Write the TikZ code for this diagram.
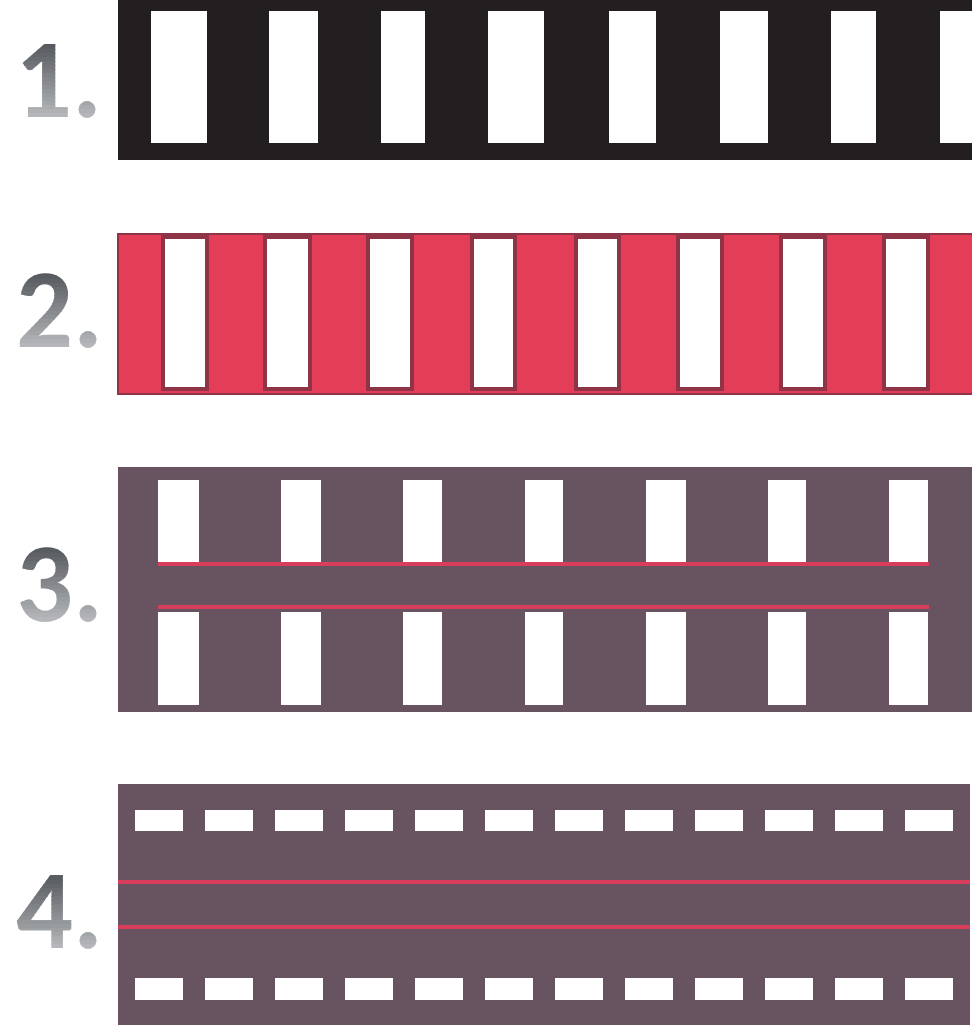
\documentclass[tikz,border=0pt]{standalone}
\usepackage{fontspec}
\newfontfamily\numfam{Carlito}
\definecolor{tapeblack}{HTML}{231F20}
\definecolor{tapered}{HTML}{E33D57}
\definecolor{tapeedge}{HTML}{8E3446}
\definecolor{tapemauve}{HTML}{685360}
\definecolor{stripered}{HTML}{D93D5C}
\definecolor{numtop}{HTML}{54575C}
\definecolor{numbot}{HTML}{BABCBF}
\usepackage{tikz}
\usetikzlibrary{calc}
\newcommand\numfont{\numfam\bfseries\fontsize{64}{64}\selectfont}
\tikzset{
  band1/.style={fill=tapeblack},
  band2/.style={fill=tapered,draw=tapeedge,line width=1.6pt},
  band3/.style={fill=tapemauve},
  whitebar/.style={fill=white},
  whitebarR/.style={fill=white,draw=tapeedge,line width=1.8pt},
  redline/.style={stripered,line width=2.6pt},
  numlab/.style={font=\numfont,inner sep=0pt},
}

\begin{document}
\begin{tikzpicture}[x=0.02cm,y=-0.02cm]
  \useasboundingbox (0,0) rectangle (972,1025);
  % grey numbers, shaded top to bottom in thin strips
  \foreach \n/\t/\xx/\yy in {one/1./59/81, two/2./60/311, three/3./60/585, four/4./60/912}{
    \coordinate (lab\n) at (\xx,\yy);
    \foreach \i in {0,...,19}{
      \pgfmathtruncatemacro\p{100*\i/19}
      \begin{scope}
        \clip ($(lab\n)+(-60,-40+4*\i)$) rectangle ($(lab\n)+(60,-36+4*\i)$);
        \node[numlab,text=numbot!\p!numtop] (lab\n\i) at (lab\n) {\t};
      \end{scope}
    }
  }
  % 1: black tape
  \fill[band1] (118,0) rectangle (972,160);
  \foreach \a/\b in {151/207,269/318,381/425,488/544,609/656,720/768,831/876,940/972}
    \fill[whitebar] (\a,11) rectangle (\b,143);
  % 2: red and white
  \draw[band2] (118,234) rectangle (973,394);
  \foreach \a/\b in {163/207,265/310,368/412,472/515,576/619,678/722,781/825,884/928}
    \draw[whitebarR] (\a,237) rectangle (\b,389);
  % 3: bars with red centre lines
  \fill[band3] (118,467) rectangle (972,712);
  \foreach \a/\b in {158/199,281/321,403/442,525/563,646/686,768/806,889/928}{
    \fill[whitebar] (\a,480) rectangle (\b,562);
    \fill[whitebar] (\a,612) rectangle (\b,705);
  }
  \draw[redline] (158,564) -- (929,564);
  \draw[redline] (158,607) -- (929,607);
  % 4: dashes with red centre lines
  \fill[band3] (118,784) rectangle (970,1025);
  \foreach \k in {0,...,11}{
    \fill[whitebar] ({135+70*\k},810) rectangle ({183+70*\k},831);
    \fill[whitebar] ({135+70*\k},978) rectangle ({183+70*\k},1000);
  }
  \draw[redline] (118,882) -- (970,882);
  \draw[redline] (118,927) -- (970,927);
\end{tikzpicture}
\end{document}
